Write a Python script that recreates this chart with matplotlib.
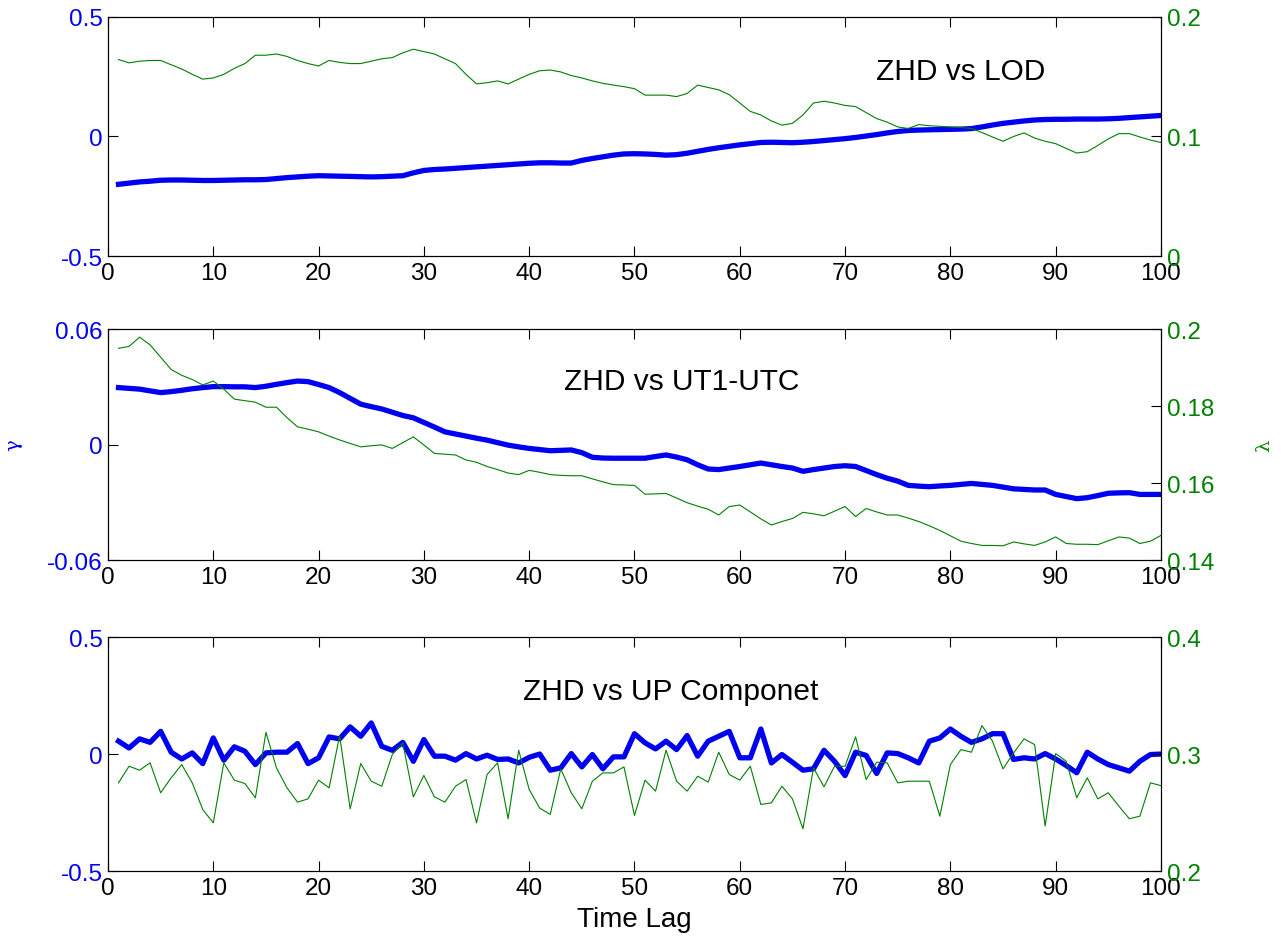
import numpy as np
import matplotlib
matplotlib.use('Agg')
import matplotlib.pyplot as plt

plt.rcParams['font.family'] = ['Liberation Sans', 'DejaVu Sans']

# eixo x: atraso de tempo 1..100
lag = np.arange(1, 101)

# painel 1: ZHD vs LOD
lod_gamma = [-0.200, -0.195, -0.190, -0.187, -0.183, -0.182, -0.182, -0.183, -0.184, -0.184,
             -0.183, -0.182, -0.181, -0.181, -0.180, -0.176, -0.172, -0.169, -0.166, -0.164,
             -0.165, -0.166, -0.167, -0.168, -0.169, -0.168, -0.166, -0.164, -0.152, -0.142,
             -0.138, -0.136, -0.133, -0.130, -0.127, -0.124, -0.121, -0.118, -0.115, -0.112,
             -0.110, -0.110, -0.111, -0.111, -0.100, -0.092, -0.085, -0.078, -0.073, -0.072,
             -0.073, -0.075, -0.078, -0.076, -0.070, -0.062, -0.054, -0.047, -0.041, -0.035,
             -0.030, -0.025, -0.024, -0.025, -0.026, -0.024, -0.021, -0.017, -0.013, -0.009,
             -0.004, 0.002, 0.008, 0.015, 0.021, 0.025, 0.027, 0.028, 0.029, 0.030,
             0.031, 0.033, 0.040, 0.048, 0.055, 0.060, 0.065, 0.069, 0.071, 0.072,
             0.072, 0.073, 0.073, 0.073, 0.074, 0.076, 0.079, 0.082, 0.085, 0.088]
lod_lambda = [0.1644, 0.1616, 0.1630, 0.1636, 0.1636, 0.1600, 0.1565, 0.1520, 0.1480, 0.1490,
              0.1520, 0.1570, 0.1610, 0.1680, 0.1680, 0.1690, 0.1670, 0.1636, 0.1610, 0.1590,
              0.1636, 0.1620, 0.1610, 0.1610, 0.1630, 0.1650, 0.1660, 0.1700, 0.1730, 0.1710,
              0.1690, 0.1650, 0.1610, 0.1520, 0.1440, 0.1450, 0.1465, 0.1440, 0.1480, 0.1520,
              0.1550, 0.1556, 0.1540, 0.1510, 0.1490, 0.1465, 0.1445, 0.1430, 0.1417, 0.1400,
              0.1346, 0.1346, 0.1346, 0.1334, 0.1360, 0.1430, 0.1410, 0.1390, 0.1350, 0.1280,
              0.1210, 0.1180, 0.1130, 0.1095, 0.1110, 0.1180, 0.1280, 0.1295, 0.1280, 0.1260,
              0.1250, 0.1200, 0.1150, 0.1120, 0.1080, 0.1067, 0.1100, 0.1090, 0.1085, 0.1080,
              0.1075, 0.1067, 0.1033, 0.0996, 0.0960, 0.1000, 0.1030, 0.0987, 0.0960, 0.0940,
              0.0900, 0.0862, 0.0873, 0.0925, 0.0980, 0.1024, 0.1024, 0.0996, 0.0970, 0.0950]

# painel 2: ZHD vs UT1-UTC
utc_gamma = [0.0296, 0.0292, 0.0288, 0.0279, 0.0270, 0.0275, 0.0282, 0.0290, 0.0296, 0.0301,
             0.0301, 0.0300, 0.0300, 0.0296, 0.0303, 0.0313, 0.0322, 0.0330, 0.0327, 0.0312,
             0.0296, 0.0270, 0.0240, 0.0210, 0.0197, 0.0185, 0.0168, 0.0151, 0.0139, 0.0115,
             0.0091, 0.0066, 0.0055, 0.0044, 0.0033, 0.0023, 0.0010, -0.0003, -0.0012, -0.0020,
             -0.0026, -0.0032, -0.0030, -0.0028, -0.0042, -0.0066, -0.0070, -0.0071, -0.0071, -0.0071,
             -0.0071, -0.0062, -0.0054, -0.0065, -0.0079, -0.0105, -0.0127, -0.0130, -0.0122, -0.0114,
             -0.0105, -0.0096, -0.0105, -0.0114, -0.0122, -0.0139, -0.0130, -0.0122, -0.0114, -0.0110,
             -0.0114, -0.0135, -0.0156, -0.0175, -0.0190, -0.0212, -0.0216, -0.0219, -0.0215, -0.0212,
             -0.0207, -0.0202, -0.0207, -0.0212, -0.0221, -0.0230, -0.0233, -0.0236, -0.0236, -0.0259,
             -0.0270, -0.0281, -0.0276, -0.0265, -0.0253, -0.0251, -0.0250, -0.0259, -0.0259, -0.0259]
utc_lambda = [0.1950, 0.1955, 0.1979, 0.1959, 0.1927, 0.1895, 0.1880, 0.1869, 0.1855, 0.1865,
              0.1844, 0.1818, 0.1814, 0.1810, 0.1797, 0.1797, 0.1770, 0.1746, 0.1740, 0.1733,
              0.1722, 0.1712, 0.1703, 0.1694, 0.1697, 0.1699, 0.1690, 0.1705, 0.1720, 0.1699,
              0.1677, 0.1675, 0.1673, 0.1660, 0.1654, 0.1643, 0.1635, 0.1626, 0.1622, 0.1633,
              0.1628, 0.1622, 0.1620, 0.1619, 0.1619, 0.1611, 0.1603, 0.1596, 0.1595, 0.1594,
              0.1571, 0.1572, 0.1573, 0.1561, 0.1549, 0.1540, 0.1532, 0.1517, 0.1539, 0.1543,
              0.1525, 0.1507, 0.1491, 0.1500, 0.1508, 0.1524, 0.1520, 0.1515, 0.1527, 0.1539,
              0.1513, 0.1534, 0.1525, 0.1517, 0.1517, 0.1509, 0.1500, 0.1489, 0.1477, 0.1463,
              0.1449, 0.1443, 0.1438, 0.1438, 0.1437, 0.1447, 0.1442, 0.1438, 0.1447, 0.1460,
              0.1443, 0.1441, 0.1441, 0.1440, 0.1450, 0.1460, 0.1457, 0.1443, 0.1449, 0.1464]

# painel 3: ZHD vs UP Componet
up_gamma = [0.055, 0.026, 0.065, 0.050, 0.097, 0.008, -0.021, 0.005, -0.041, 0.069,
            -0.026, 0.031, 0.012, -0.045, 0.005, 0.008, 0.008, 0.045, -0.041, -0.016,
            0.073, 0.065, 0.116, 0.076, 0.133, 0.033, 0.016, 0.050, -0.031, 0.062,
            -0.009, -0.009, -0.026, 0.002, -0.021, -0.005, -0.023, -0.021, -0.038, -0.014,
            0.000, -0.069, -0.059, 0.002, -0.055, -0.002, -0.063, -0.012, -0.012, 0.087,
            0.048, 0.022, 0.055, 0.019, 0.079, -0.009, 0.055, 0.076, 0.097, -0.016,
            -0.016, 0.107, -0.038, -0.002, -0.035, -0.069, -0.063, 0.016, -0.031, -0.092,
            0.008, -0.006, -0.083, 0.005, 0.002, -0.016, -0.038, 0.055, 0.069, 0.107,
            0.076, 0.050, 0.065, 0.087, 0.087, -0.023, -0.016, -0.021, 0.002, -0.021,
            -0.049, -0.080, 0.008, -0.021, -0.045, -0.059, -0.073, -0.031, -0.002, 0.000]
up_lambda = [0.2754, 0.2896, 0.2862, 0.2925, 0.2669, 0.2797, 0.2910, 0.2754, 0.2526, 0.2412,
             0.2925, 0.2777, 0.2748, 0.2626, 0.3186, 0.2882, 0.2711, 0.2589, 0.2617, 0.2777,
             0.2711, 0.3158, 0.2532, 0.2919, 0.2768, 0.2725, 0.2996, 0.3095, 0.2634, 0.2817,
             0.2634, 0.2589, 0.2725, 0.2782, 0.2412, 0.2825, 0.2925, 0.2447, 0.3033, 0.2697,
             0.2538, 0.2484, 0.2873, 0.2669, 0.2532, 0.2768, 0.2839, 0.2839, 0.2890, 0.2475,
             0.2777, 0.2683, 0.3033, 0.2768, 0.2683, 0.2811, 0.2760, 0.3016, 0.2825, 0.2777,
             0.2896, 0.2569, 0.2583, 0.2725, 0.2617, 0.2361, 0.2882, 0.2720, 0.2896, 0.2896,
             0.3147, 0.2782, 0.2930, 0.2925, 0.2754, 0.2768, 0.2768, 0.2768, 0.2469, 0.2910,
             0.3038, 0.3016, 0.3243, 0.3110, 0.2873, 0.3010, 0.3130, 0.3081, 0.2384, 0.3004,
             0.2939, 0.2626, 0.2797, 0.2617, 0.2669, 0.2555, 0.2447, 0.2469, 0.2754, 0.2730]

titles = ['ZHD vs LOD', 'ZHD vs UT1-UTC', 'ZHD vs UP Componet']
left_ticks = [[-0.5, 0, 0.5], [-0.06, 0, 0.06], [-0.5, 0, 0.5]]
left_labels = [['-0.5', '0', '0.5'], ['-0.06', '0', '0.06'], ['-0.5', '0', '0.5']]
right_ticks = [[0, 0.1, 0.2], [0.14, 0.16, 0.18, 0.2], [0.2, 0.3, 0.4]]
right_labels = [['0', '0.1', '0.2'], ['0.14', '0.16', '0.18', '0.2'], ['0.2', '0.3', '0.4']]
xticks = list(range(0, 101, 10))

gammas = [lod_gamma, utc_gamma, up_gamma]
lambdas = [lod_lambda, utc_lambda, up_lambda]

azul = '#0000f0'
verde = '#008000'

fig = plt.figure(figsize=(12.81, 9.45), dpi=100)

# posicoes dos paineis (esq, baixo, largura, altura)
posicoes = [[0.0843, 0.728, 0.822, 0.253],
            [0.0843, 0.4063, 0.822, 0.2444],
            [0.0843, 0.0772, 0.822, 0.2476]]
title_pos = [(0.810, 0.774), (0.545, 0.775), (0.534, 0.77)]

for i in range(3):
    ax = fig.add_axes(posicoes[i])
    ax2 = ax.twinx()

    ax.plot(lag, gammas[i], color=azul, lw=3.8)
    ax2.plot(lag, lambdas[i], color=verde, lw=0.8)

    ax.set_xlim(0, 100)
    ax.set_ylim(left_ticks[i][0], left_ticks[i][-1])
    ax2.set_ylim(right_ticks[i][0], right_ticks[i][-1])

    ax.set_xticks(xticks)
    ax.set_xticklabels([str(t) for t in xticks])
    ax.set_yticks(left_ticks[i])
    ax.set_yticklabels(left_labels[i])
    ax2.set_yticks(right_ticks[i])
    ax2.set_yticklabels(right_labels[i])

    ax.tick_params(axis='x', direction='in', top=True, length=7, labelsize=17.5, pad=4)
    ax.tick_params(axis='y', direction='in', right=False, length=7, labelsize=17.5,
                   labelcolor=azul, pad=4)
    ax2.tick_params(axis='y', direction='in', length=7, labelsize=17.5, labelcolor=verde, pad=4)

    ax.text(title_pos[i][0], title_pos[i][1], titles[i], transform=ax.transAxes,
            ha='center', va='center', fontsize=21.5)

    if i == 1:
        ax.set_ylabel('γ', color=azul, fontsize=14, family='DejaVu Serif', labelpad=18)
        ax2.set_ylabel('λ', color=verde, fontsize=14, family='DejaVu Serif', labelpad=30)

    if i == 2:
        ax.set_xlabel('Time Lag', fontsize=20, labelpad=5)

fig.savefig('out.png', dpi=100)
